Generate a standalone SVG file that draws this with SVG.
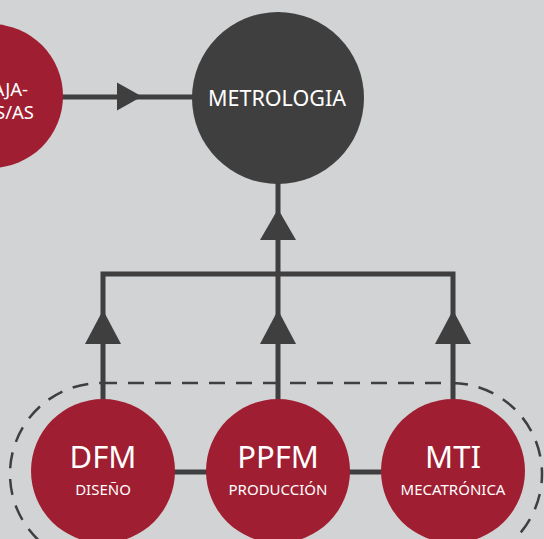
<svg xmlns="http://www.w3.org/2000/svg" width="544" height="539" viewBox="0 0 544 539">
<style>
.red{fill:#a01e31}
.dark{fill:#3f3f40}
.ln{stroke:#3f3f40;stroke-width:5;fill:none}
.ah{fill:#3f3f40}
.t{fill:#ffffff;font-family:"Noto Sans","Open Sans",sans-serif}
.big{font-size:31px}
.sub{font-size:15px}
</style>
<rect width="544" height="539" fill="#d1d3d4"/>
<g id="group-boundary">
<rect x="10" y="383" width="532" height="182" rx="91" ry="91" fill="none" stroke="#3f3f40" stroke-width="2.5" stroke-dasharray="16 11"/>
</g>
<g id="connectors">
<line class="ln" x1="60" y1="97" x2="195" y2="97"/>
<polygon class="ah" points="117,82.5 142,96.5 117,110.5"/>
<line class="ln" x1="278" y1="180" x2="278" y2="276"/>
<polygon class="ah" points="278,209 296,240 260,240"/>
<polyline class="ln" points="103,402 103,274 453,274 453,402"/>
<line class="ln" x1="278" y1="274" x2="278" y2="402"/>
<polygon class="ah" points="103,310 121,344 85,344"/>
<polygon class="ah" points="278,310 296,344 260,344"/>
<polygon class="ah" points="453,310 471,344 435,344"/>
<line class="ln" x1="160" y1="472" x2="390" y2="472"/>
</g>
<g id="node-left">
<circle class="red" cx="-9" cy="96" r="72"/>
<text class="t" x="28" y="95.5" font-size="18.5" text-anchor="end">AJA-</text>
<text class="t" x="34" y="118.5" font-size="18.5" text-anchor="end">S/AS</text>
</g>
<g id="node-metrologia">
<circle class="dark" cx="278" cy="98" r="86"/>
<text class="t" x="277" y="106" font-size="21.5" text-anchor="middle">METROLOGIA</text>
</g>
<g id="node-dfm">
<circle class="red" cx="103" cy="471" r="72"/>
<text class="t big" x="103" y="468" text-anchor="middle">DFM</text>
<text class="t sub" x="103" y="495" text-anchor="middle">DISEÑO</text>
</g>
<g id="node-ppfm">
<circle class="red" cx="278" cy="471" r="72"/>
<text class="t big" x="278" y="468" text-anchor="middle">PPFM</text>
<text class="t sub" x="278" y="495" text-anchor="middle">PRODUCCIÓN</text>
</g>
<g id="node-mti">
<circle class="red" cx="453" cy="471" r="72"/>
<text class="t big" x="453" y="468" text-anchor="middle">MTI</text>
<text class="t sub" x="453" y="495" text-anchor="middle">MECATRÓNICA</text>
</g>
</svg>
